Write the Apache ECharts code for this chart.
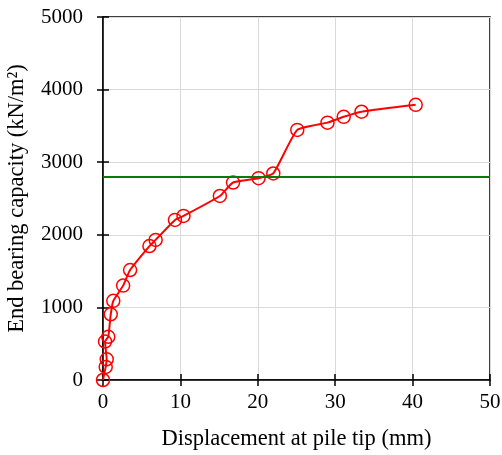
<!DOCTYPE html>
<html><head><meta charset="utf-8">
<script src="https://cdn.jsdelivr.net/npm/echarts@6/dist/echarts.min.js"></script>
<style>html,body{margin:0;padding:0;background:#fff}#c{width:502px;height:455px}</style>
</head><body><div id="c"></div>
<script>
const displacement = [0, 0.35, 0.48, 0.26, 0.68, 1.0, 1.33, 2.6, 3.5, 6.0, 6.8, 9.3, 10.4, 15.1, 16.8, 20.1, 22.0, 25.1, 29.0, 31.1, 33.4, 40.4];
const capacity = [0, 180, 285, 530, 595, 905, 1090, 1300, 1515, 1845, 1930, 2205, 2260, 2535, 2720, 2780, 2845, 3445, 3545, 3625, 3695, 3790];
const limitCapacity = 2800;
const xTitle = 'Displacement at pile tip (mm)';
const yTitle = 'End bearing capacity (kN/m²)';

const font = 'Liberation Serif';
const chart = echarts.init(document.getElementById('c'));
const baseX = {type:'value', min:0, max:50, interval:10};
const baseY = {type:'value', min:0, max:5000, interval:1000};
chart.setOption({
  animation:false,
  grid:{left:103, right:12, top:17, bottom:75, containLabel:false, outerBoundsMode:'none',
        show:true, borderColor:'#000', borderWidth:1.5, backgroundColor:'transparent'},
  xAxis:[
    Object.assign({}, baseX, {
      position:'bottom',
      name:xTitle, nameLocation:'middle', nameGap:48,
      nameTextStyle:{fontFamily:font, fontSize:22.5, color:'#000'},
      axisLine:{show:true, lineStyle:{color:'#000', width:1.5}},
      axisTick:{show:true, length:6, lineStyle:{color:'#000', width:1.5}},
      axisLabel:{fontFamily:font, fontSize:21, color:'#000', margin:12, formatter:v=>String(v)},
      splitLine:{show:true, lineStyle:{color:'#d9d9d9', width:1}}
    }),
    Object.assign({}, baseX, {
      position:'bottom',
      axisLine:{show:false}, axisLabel:{show:false}, splitLine:{show:false},
      axisTick:{show:true, inside:true, length:6, lineStyle:{color:'#000', width:1.5}}
    })
  ],
  yAxis:[
    Object.assign({}, baseY, {
      position:'left',
      name:yTitle, nameLocation:'middle', nameGap:74,
      nameTextStyle:{fontFamily:font, fontSize:22.5, color:'#000'},
      axisLine:{show:true, lineStyle:{color:'#000', width:1.5}},
      axisTick:{show:true, length:6, lineStyle:{color:'#000', width:1.5}},
      axisLabel:{fontFamily:font, fontSize:21, color:'#000', margin:20, formatter:v=>String(v)},
      splitLine:{show:true, lineStyle:{color:'#d9d9d9', width:1}}
    }),
    Object.assign({}, baseY, {
      position:'left',
      axisLine:{show:false}, axisLabel:{show:false}, splitLine:{show:false},
      axisTick:{show:true, inside:true, length:6, lineStyle:{color:'#000', width:1.5}}
    })
  ],
  series:[
    {
      type:'line', xAxisIndex:0, yAxisIndex:0,
      data: displacement.map((d,i)=>[d, capacity[i]]),
      smooth:0.15,
      symbol:'circle', symbolSize:13,
      lineStyle:{color:'#ff0000', width:2},
      itemStyle:{color:'rgba(255,255,255,0)', borderColor:'#ff0000', borderWidth:1.5},
      markLine:{silent:true, symbol:'none', label:{show:false},
        lineStyle:{color:'#0a7a0a', width:2, type:'solid'},
        data:[{yAxis:limitCapacity}]},
      z:3
    }
  ]
});
</script></body></html>
